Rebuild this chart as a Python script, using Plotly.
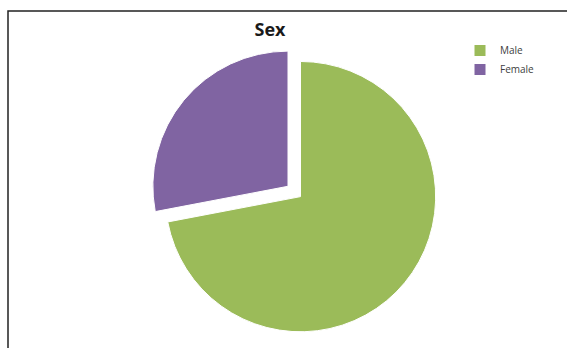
import plotly.graph_objects as go

labels = ["Male", "Female"]
values = [72, 28]
colors = ["#9BBB59", "#8064A2"]
pulls = [0, 0.12]

fig = go.Figure(go.Pie(
    labels=labels,
    values=values,
    sort=False,
    direction="clockwise",
    rotation=0,
    pull=pulls,
    marker=dict(colors=colors, line=dict(color="white", width=1)),
    textinfo="none",
    hoverinfo="label+percent",
    domain=dict(x=[0.14, 0.92], y=[0.0, 0.87]),
))

fig.update_layout(
    width=567, height=348,
    margin=dict(l=0, r=0, t=0, b=0),
    paper_bgcolor="white",
    plot_bgcolor="white",
    title=dict(text="<b>Sex</b>", x=270/567, xanchor="center", y=1-30/348, yanchor="middle",
               font=dict(family="Open Sans, Arial, sans-serif", size=18, color="#1a1a1a")),
    legend=dict(x=460/567, y=1-36/348, xanchor="left", yanchor="top",
                font=dict(family="Open Sans, Arial, sans-serif", size=10, color="#404040"),
                itemwidth=30, tracegroupgap=0, bgcolor="rgba(0,0,0,0)"),
    shapes=[dict(type="rect", xref="paper", yref="paper",
                 x0=8/567, x1=1.05, y0=-0.05, y1=1-11/348,
                 line=dict(color="#222222", width=1.5), fillcolor="rgba(0,0,0,0)")],
)

fig.write_html("out.html")
